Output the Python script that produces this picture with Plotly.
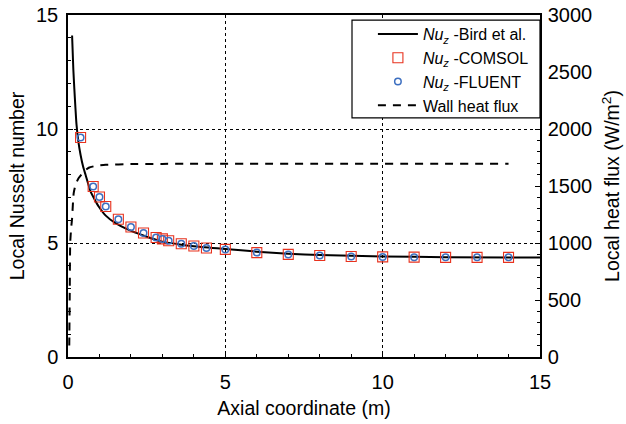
import plotly.graph_objects as go

# Bird et al. analytical curve
bird_x = [0.13, 0.17, 0.2, 0.27, 0.33, 0.4, 0.48, 0.56, 0.72, 0.85, 0.98, 1.2, 1.5, 1.86, 2.39, 3.0, 3.5, 4.0, 5.0, 6.0, 7.0, 8.0, 10.0, 12.0, 15.0]
bird_nu = [14.1, 12.6, 11.8, 10.2, 9.45, 8.86, 8.35, 7.98, 7.25, 6.9, 6.59, 6.2, 5.88, 5.62, 5.33, 5.06, 4.95, 4.86, 4.74, 4.62, 4.53, 4.47, 4.41, 4.38, 4.36]

# Simulation points
sim_x = [0.4, 0.8, 1.0, 1.2, 1.6, 2.0, 2.4, 2.8, 3.0, 3.2, 3.6, 4.0, 4.4, 5, 6, 7, 8, 9, 10, 11, 12, 13, 14]
comsol_nu = [9.63, 7.48, 7.02, 6.6, 6.04, 5.7, 5.44, 5.24, 5.18, 5.1, 4.97, 4.87, 4.78, 4.72, 4.58, 4.5, 4.45, 4.41, 4.39, 4.38, 4.37, 4.37, 4.37]
fluent_nu = [9.63, 7.48, 7.02, 6.6, 6.04, 5.7, 5.44, 5.24, 5.18, 5.1, 4.97, 4.87, 4.78, 4.72, 4.58, 4.5, 4.45, 4.41, 4.39, 4.38, 4.37, 4.37, 4.37]

# Wall heat flux
flux_x = [0.04, 0.055, 0.07, 0.1, 0.13, 0.18, 0.25, 0.34, 0.5, 0.66, 0.9, 1.2, 2.0, 3.0, 14.0]
flux_q = [100, 550, 1000, 1130, 1216, 1436, 1520, 1570, 1625, 1660, 1678, 1686, 1692, 1694, 1695]

x_ticks = [0, 5, 10, 15]
y_ticks = [0, 5, 10, 15]
y2_ticks = [0, 500, 1000, 1500, 2000, 2500, 3000]

FONT = "Liberation Sans, Arial, sans-serif"

fig = go.Figure()
fig.add_trace(go.Scatter(x=bird_x, y=bird_nu, mode="lines", line=dict(color="black", width=2, shape="spline", smoothing=0.6),
                         name="<i>Nu<sub>z</sub></i> -Bird et al."))
fig.add_trace(go.Scatter(x=sim_x, y=comsol_nu, mode="markers",
                         marker=dict(symbol="square-open", size=10, color="#e8321e", line=dict(width=1.1)),
                         name="<i>Nu<sub>z</sub></i> -COMSOL"))
fig.add_trace(go.Scatter(x=sim_x, y=fluent_nu, mode="markers",
                         marker=dict(symbol="circle-open", size=6.5, color="#3d6fc0", line=dict(width=1.5)),
                         name="<i>Nu<sub>z</sub></i> -FLUENT"))
fig.add_trace(go.Scatter(x=flux_x, y=flux_q, mode="lines", yaxis="y2",
                         line=dict(color="black", width=2, dash="8px,7px", shape="spline", smoothing=0.5),
                         name="Wall heat flux"))

axis_common = dict(showline=True, linecolor="black", linewidth=1.5, ticks="inside", ticklen=5,
                   tickcolor="black", tickfont=dict(size=20, color="black", family=FONT), zeroline=False,
                   automargin=False)

fig.update_layout(
    width=626, height=424,
    margin=dict(l=68, r=86, t=15, b=67),
    paper_bgcolor="white", plot_bgcolor="white",
    font=dict(family=FONT, color="black"),
    xaxis=dict(range=[0, 15], tickvals=x_ticks, mirror=True,
               showgrid=True, gridcolor="black", griddash="dot", gridwidth=1,
               minor=dict(dtick=1, ticks="inside", ticklen=3, tickcolor="black", showgrid=False),
               title=dict(text="Axial coordinate (m)", font=dict(size=19.5), standoff=10),
               ticklabelstandoff=6, **axis_common),
    yaxis=dict(range=[0, 15], tickvals=y_ticks, mirror=True,
               showgrid=True, gridcolor="black", griddash="dot", gridwidth=1,
               minor=dict(dtick=1, ticks="inside", ticklen=3, tickcolor="black", showgrid=False),
               title=dict(text="Local Nusselt number", font=dict(size=19.5), standoff=6),
               ticklabelstandoff=4, **axis_common),
    yaxis2=dict(range=[0, 3000], tickvals=y2_ticks, overlaying="y", side="right", showgrid=False,
                minor=dict(dtick=100, ticks="inside", ticklen=3, tickcolor="black", showgrid=False),
                title=dict(text="Local heat flux (W/m<sup>2</sup>)", font=dict(size=19.5), standoff=14),
                ticklabelstandoff=2, **axis_common),
    legend=dict(x=0.646, xanchor="left", y=0.994, yanchor="top", borderwidth=0,
                bgcolor="rgba(0,0,0,0)", font=dict(size=16, color="black", family=FONT),
                tracegroupgap=0, itemwidth=40),
    showlegend=True,
    shapes=[dict(type="rect", xref="paper", yref="paper", x0=0.6017, x1=1.0, y0=0.699, y1=0.985,
                 line=dict(color="black", width=1.2), fillcolor="white", layer="above")],
)

fig.write_html("out.html")
